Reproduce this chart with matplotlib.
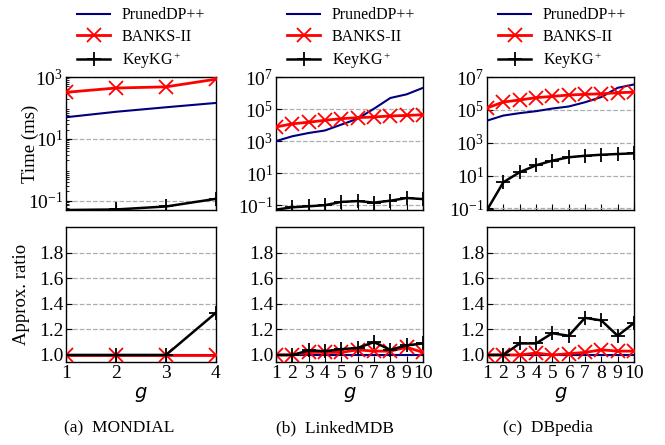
import matplotlib
matplotlib.use("Agg")
import matplotlib.pyplot as plt
from matplotlib.ticker import LogLocator, NullFormatter, FixedLocator

plt.rcParams['font.family'] = ['Liberation Serif', 'DejaVu Serif']
plt.rcParams['mathtext.fontset'] = 'custom'
plt.rcParams['mathtext.rm'] = 'Liberation Serif'
plt.rcParams['mathtext.it'] = 'Liberation Serif:italic'
plt.rcParams['font.size'] = 10

series = ['PrunedDP++', 'BANKS-II', 'KeyKG$^+$']
colors = ['#00007f', '#ff0000', '#000000']
markers = [None, 'x', '+']
lws = [1.5, 2.0, 1.8]

captions = ['(a)  MONDIAL', '(b)  LinkedMDB', '(c)  DBpedia']

g_mondial = [1, 2, 3, 4]
g_big = [1, 2, 3, 4, 5, 6, 7, 8, 9, 10]

# Time (ms)
time_mondial_pruned = [50, 75, 105, 145]
time_mondial_banks = [320, 440, 480, 850]
time_mondial_keykg = [0.05, 0.052, 0.065, 0.115]

time_lmdb_pruned = [1000, 2000, 3200, 4600, 10700, 25000, 105000, 490000, 830000, 2100000]
time_lmdb_banks = [7600, 12000, 15000, 20000, 25000, 29000, 32000, 37000, 40000, 44000]
time_lmdb_keykg = [0.053, 0.074, 0.085, 0.10, 0.16, 0.18, 0.145, 0.19, 0.28, 0.24]

time_dbp_pruned = [22000, 45000, 63000, 83000, 120000, 160000, 290000, 600000, 2200000, 3500000]
time_dbp_banks = [130000, 300000, 400000, 550000, 660000, 800000, 880000, 950000, 1100000, 1200000]
time_dbp_keykg = [0.08, 3.9, 16, 42, 81, 130, 160, 185, 205, 225]

# Approx. ratio
ratio_mondial_pruned = [1.0, 1.0, 1.0, 1.0]
ratio_mondial_banks = [1.0, 1.0, 1.0, 1.0]
ratio_mondial_keykg = [1.0, 1.0, 1.0, 1.33]

ratio_lmdb_pruned = [1.0] * 10
ratio_lmdb_banks = [1.0, 1.0, 1.02, 1.02, 1.02, 1.04, 1.03, 1.03, 1.06, 1.02]
ratio_lmdb_keykg = [1.0, 1.0, 1.035, 1.03, 1.045, 1.055, 1.10, 1.04, 1.075, 1.09]

ratio_dbp_pruned = [1.0] * 10
ratio_dbp_banks = [1.0, 1.0, 1.0, 1.015, 1.0, 1.01, 1.02, 1.04, 1.03, 1.03]
ratio_dbp_keykg = [1.0, 1.0, 1.09, 1.09, 1.17, 1.15, 1.29, 1.27, 1.15, 1.25]

xs = [g_mondial, g_big, g_big]
times = [
    [time_mondial_pruned, time_mondial_banks, time_mondial_keykg],
    [time_lmdb_pruned, time_lmdb_banks, time_lmdb_keykg],
    [time_dbp_pruned, time_dbp_banks, time_dbp_keykg],
]
ratios = [
    [ratio_mondial_pruned, ratio_mondial_banks, ratio_mondial_keykg],
    [ratio_lmdb_pruned, ratio_lmdb_banks, ratio_lmdb_keykg],
    [ratio_dbp_pruned, ratio_dbp_banks, ratio_dbp_keykg],
]
time_ylims = [(0.05, 1000), (0.05, 1e7), (0.08, 1e7)]
time_yticks = [[1e-1, 1e1, 1e3], [1e-1, 1e1, 1e3, 1e5, 1e7], [1e-1, 1e1, 1e3, 1e5, 1e7]]

fig = plt.figure(figsize=(6.65, 4.45), dpi=100)
W, H = 665, 445
lefts = [66, 276, 487]
widths = [150, 147, 147]
centers = [119, 335, 548]

grid_kw = dict(color='#a8b0b0', linestyle='--', linewidth=0.9)

for c in range(3):
    l = lefts[c] / W
    w = widths[c] / W
    ax_t = fig.add_axes([l, (H - 210) / H, w, 133 / H])
    ax_b = fig.add_axes([l, (H - 362) / H, w, 135 / H])
    x = xs[c]
    for i in range(3):
        ax_t.plot(x, times[c][i], color=colors[i], marker=markers[i], lw=lws[i],
                  ms=10, mew=1.3, label=series[i], zorder=3)
    for i in range(3):
        ax_b.plot(x, ratios[c][i], color=colors[i], marker=markers[i], lw=lws[i],
                  ms=10, mew=1.3, zorder=3 + (1 if i == 2 else 0))
    ax_t.set_yscale('log')
    ax_t.set_ylim(*time_ylims[c])
    ax_t.yaxis.set_major_locator(FixedLocator(time_yticks[c]))
    if c == 0:
        ax_t.yaxis.set_minor_locator(LogLocator(base=10, subs=range(2, 10), numticks=20))
    else:
        ax_t.yaxis.set_minor_locator(FixedLocator([]))
    ax_t.yaxis.set_minor_formatter(NullFormatter())
    ax_t.set_xlim(x[0], x[-1])
    ax_t.set_xticks(x)
    ax_t.set_xticklabels([])
    ax_t.grid(axis='y', which='major', **grid_kw)
    ax_t.set_axisbelow(True)

    ax_b.set_ylim(0.945, 2.0)
    ax_b.set_yticks([1.0, 1.2, 1.4, 1.6, 1.8])
    ax_b.set_yticklabels(['1.0', '1.2', '1.4', '1.6', '1.8'])
    ax_b.set_xlim(x[0], x[-1])
    ax_b.set_xticks(x)
    ax_b.grid(axis='y', **grid_kw)
    ax_b.set_axisbelow(True)

    for ax in (ax_t, ax_b):
        ax.tick_params(direction='in', which='both', labelsize=14, pad=2)
        ax.tick_params(which='major', length=4)
        ax.tick_params(which='minor', length=2)
        for s in ax.spines.values():
            s.set_linewidth(1.0)

    ax_b.set_xlabel('g', family='DejaVu Sans', style='italic', fontsize=14, labelpad=1)

    leg = ax_t.legend(loc='lower left', bbox_to_anchor=(6 / widths[c], 1.01), frameon=False,
                      fontsize=11.5, handlelength=2.1, handletextpad=0.7,
                      labelspacing=0.35, borderaxespad=0.1, borderpad=0.2)

    fig.text(centers[c] / W, (H - 428) / H, captions[c], ha='center', va='center',
             fontsize=12.5)

    if c == 0:
        ax_t.set_ylabel('Time (ms)', fontsize=13.5)
        ax_t.yaxis.set_label_coords((39 - 66) / 150, 0.5)
        ax_b.set_ylabel('Approx. ratio', fontsize=13.5)
        ax_b.yaxis.set_label_coords((30 - 66) / 150, 0.5)

fig.savefig('out.png', dpi=100)
